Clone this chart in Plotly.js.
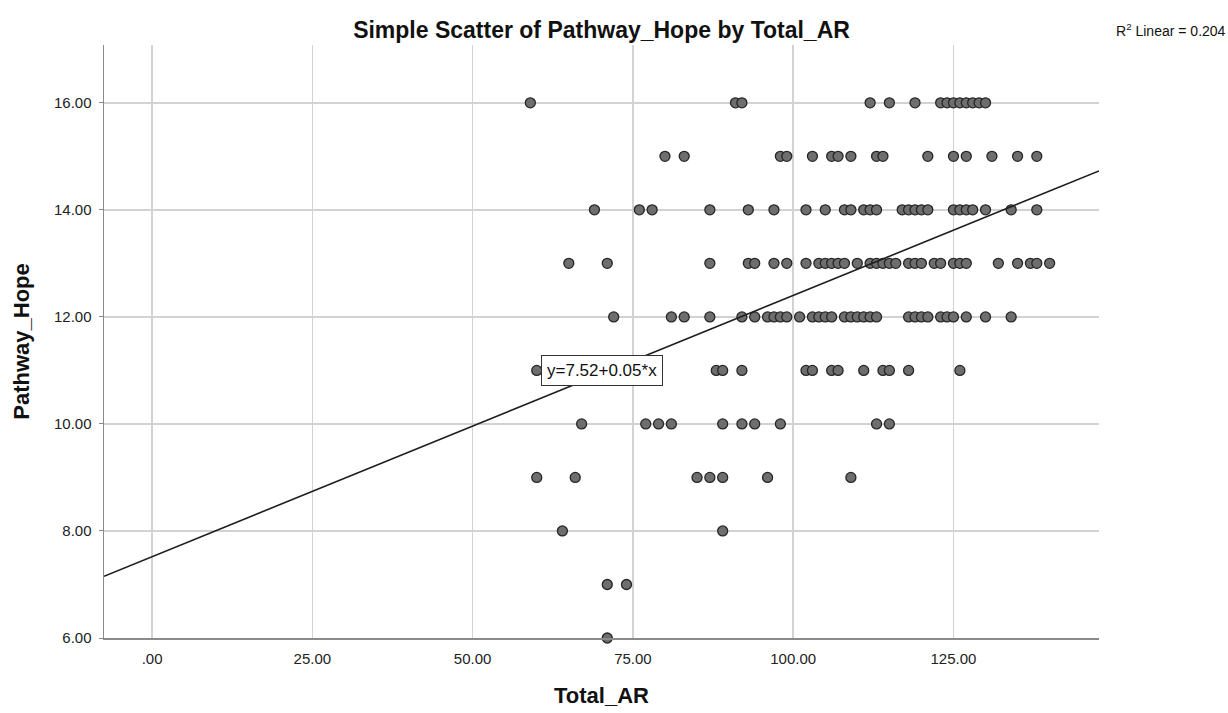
<!DOCTYPE html>
<html>
<head>
<meta charset="utf-8">
<script src="https://cdn.plot.ly/plotly-3.0.1.min.js"></script>
<style>
  html, body { margin: 0; padding: 0; background: #ffffff; }
  #chart { width: 1228px; height: 713px; }
</style>
</head>
<body>
<div id="chart"></div>
<script>
// Total_AR scores observed at each Pathway_Hope level
const hope16 = [59, 91, 92, 112, 115, 119, 123, 124, 125, 126, 127, 128, 129, 130];
const hope15 = [80, 83, 98, 99, 103, 106, 107, 109, 113, 114, 121, 125, 127, 131, 135, 138];
const hope14 = [69, 76, 78, 87, 93, 97, 102, 105, 108, 109, 111, 112, 113, 117, 118, 119, 120, 121, 125, 126, 127, 128, 130, 134, 138];
const hope13 = [65, 71, 87, 93, 94, 97, 99, 102, 104, 105, 106, 107, 108, 110, 112, 113, 114, 115, 116, 118, 119, 120, 122, 123, 125, 126, 127, 132, 135, 137, 138, 140];
const hope12 = [72, 81, 83, 87, 92, 94, 96, 97, 98, 99, 101, 103, 104, 105, 106, 108, 109, 110, 111, 112, 113, 118, 119, 120, 121, 123, 124, 125, 127, 130, 134];
const hope11 = [60, 88, 89, 92, 102, 103, 106, 107, 111, 114, 115, 118, 126];
const hope10 = [67, 77, 79, 81, 89, 92, 94, 98, 113, 115];
const hope9  = [60, 66, 85, 87, 89, 96, 109];
const hope8  = [64, 89];
const hope7  = [71, 74];
const hope6  = [71];

const hopeLevels = [16, 15, 14, 13, 12, 11, 10, 9, 8, 7, 6];
const arByLevel  = [hope16, hope15, hope14, hope13, hope12, hope11, hope10, hope9, hope8, hope7, hope6];

// Linear fit reported for the data
const fitIntercept = 7.52;
const fitSlope = 0.0488;
const rSquared = 0.204;

// Axis ticks
const xTickVals = [0, 25, 50, 75, 100, 125];
const xTickText = ['.00', '25.00', '50.00', '75.00', '100.00', '125.00'];
const yTickVals = [6, 8, 10, 12, 14, 16];
const yTickText = ['6.00', '8.00', '10.00', '12.00', '14.00', '16.00'];

const xRange = [-7.5, 147.7];
const yRange = [6, 17.08];

// Flatten into point lists
const px = [], py = [];
hopeLevels.forEach((lvl, i) => {
  arByLevel[i].forEach(v => { px.push(v); py.push(lvl); });
});

const font = 'Liberation Sans, Arial, sans-serif';

const points = {
  type: 'scatter', mode: 'markers',
  x: px, y: py,
  marker: { size: 10, color: '#6e6e6e', line: { color: '#262626', width: 1.3 } },
  hoverinfo: 'x+y', showlegend: false, cliponaxis: false
};

const fitLine = {
  type: 'scatter', mode: 'lines',
  x: xRange,
  y: xRange.map(v => fitIntercept + fitSlope * v),
  line: { color: '#1e1e1e', width: 1.6 },
  hoverinfo: 'skip', showlegend: false
};

const layout = {
  width: 1228, height: 713,
  margin: { l: 104, r: 129, t: 45, b: 75, pad: 0 },
  paper_bgcolor: '#ffffff', plot_bgcolor: '#ffffff',
  font: { family: font, color: '#1a1a1a' },
  title: {
    text: '<b>Simple Scatter of Pathway_Hope by Total_AR</b>',
    font: { family: font, size: 23, color: '#111111' },
    xref: 'paper', x: 0.5, xanchor: 'center',
    yref: 'container', y: 1 - 30 / 713, yanchor: 'middle'
  },
  xaxis: {
    range: xRange, tickvals: xTickVals, ticktext: xTickText,
    showgrid: true, gridcolor: '#d2d2d2', gridwidth: 1.5,
    zeroline: false, showline: true, linecolor: '#8a8a8a', linewidth: 1.5,
    ticks: '', ticklabelstandoff: 6,
    tickfont: { family: font, size: 15, color: '#222222' },
    title: { text: '<b>Total_AR</b>', font: { family: font, size: 22, color: '#111111' }, standoff: 22 }
  },
  yaxis: {
    range: yRange, tickvals: yTickVals, ticktext: yTickText,
    showgrid: true, gridcolor: '#d2d2d2', gridwidth: 1.5,
    zeroline: false, showline: true, linecolor: '#8a8a8a', linewidth: 1.5,
    ticks: 'outside', ticklen: 4, tickcolor: '#8a8a8a', tickwidth: 1,
    ticklabelstandoff: 4,
    tickfont: { family: font, size: 15, color: '#222222' },
    title: { text: '<b>Pathway_Hope</b>', font: { family: font, size: 22, color: '#111111' }, standoff: 18 }
  },
  annotations: [
    {
      xref: 'x', yref: 'y', x: 60.7, y: 11, xanchor: 'left', yanchor: 'middle',
      text: 'y=' + fitIntercept.toFixed(2) + '+' + fitSlope.toFixed(2) + '*x',
      showarrow: false, bgcolor: '#ffffff', bordercolor: '#333333', borderwidth: 1, borderpad: 5,
      font: { family: font, size: 17, color: '#111111' }
    },
    {
      xref: 'paper', yref: 'paper', x: (1114 - 104) / 995, y: (638 - 30) / 593,
      xanchor: 'left', yanchor: 'middle',
      text: 'R<sup>2</sup> Linear = ' + rSquared.toFixed(3),
      showarrow: false, font: { family: font, size: 14, color: '#111111' }
    }
  ]
};

Plotly.newPlot('chart', [points, fitLine], layout, { displayModeBar: false, staticPlot: true });
</script>
</body>
</html>
